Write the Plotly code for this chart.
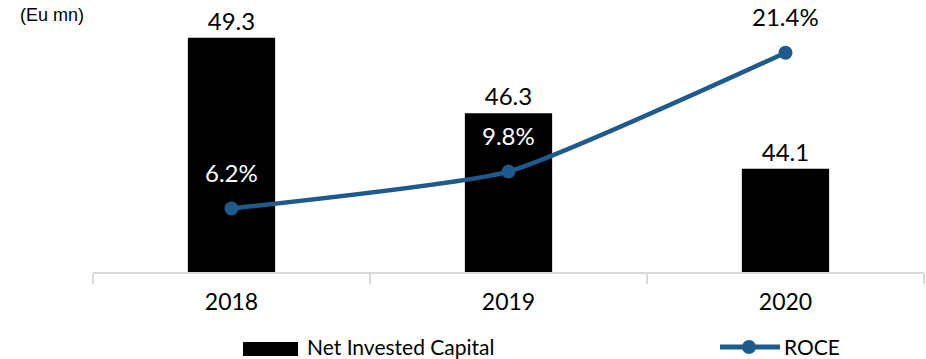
import plotly.graph_objects as go

# Data
years = ["2018", "2019", "2020"]
net_invested_capital = [49.3, 46.3, 44.1]   # Eu mn
roce = [6.2, 9.8, 21.4]                      # %
roce_label_colors = ["white", "white", "black"]

W, H = 926, 359
ML, MR, MT, MB = 93, 2, 20, 87
PW, PH = W - ML - MR, H - MT - MB

LINE_BLUE = "#1F5A8C"
FONT = "Lato"


def px_x(x):
    return (x - ML) / PW


def px_y(y):
    return (H - MB - y) / PH


fig = go.Figure()

fig.add_trace(go.Bar(
    x=years,
    y=net_invested_capital,
    marker=dict(color="black", line=dict(width=0)),
    text=[f"{v:.1f}" for v in net_invested_capital],
    textposition="outside",
    textfont=dict(family=FONT, size=24, color="black"),
    constraintext="none",
    cliponaxis=False,
    showlegend=False,
    name="Net Invested Capital",
))

fig.add_trace(go.Scatter(
    x=years,
    y=roce,
    yaxis="y2",
    mode="lines+markers",
    line=dict(color=LINE_BLUE, width=4.5, shape="spline", smoothing=0.45),
    marker=dict(color=LINE_BLUE, size=14),
    cliponaxis=False,
    showlegend=False,
    name="ROCE",
))

annotations = []
# category positions are addressed by index so "2020" is not read as a number
for i, (v, c) in enumerate(zip(roce, roce_label_colors)):
    annotations.append(dict(
        x=i, y=v, xref="x", yref="y2",
        text=f"{v:.1f}%", showarrow=False,
        yshift=36,
        font=dict(family=FONT, size=24, color=c),
    ))

# Unit caption
annotations.append(dict(
    x=px_x(18), y=px_y(15), xref="paper", yref="paper",
    xanchor="left", yanchor="middle",
    text="(Eu mn)", showarrow=False,
    font=dict(family="Liberation Sans", size=18, color="black"),
))

# Legend drawn below the axis
shapes = [
    dict(type="rect", xref="paper", yref="paper",
         x0=px_x(243), x1=px_x(298), y0=px_y(356), y1=px_y(342),
         fillcolor="black", line=dict(width=0)),
    dict(type="line", xref="paper", yref="paper",
         x0=px_x(720), x1=px_x(780), y0=px_y(347), y1=px_y(347),
         line=dict(color=LINE_BLUE, width=5)),
    dict(type="circle", xref="paper", yref="paper",
         x0=px_x(742), x1=px_x(756), y0=px_y(354), y1=px_y(340),
         fillcolor=LINE_BLUE, line=dict(width=0)),
]
annotations.append(dict(
    x=px_x(305), y=px_y(346), xref="paper", yref="paper",
    xanchor="left", yanchor="middle", text="Net Invested Capital",
    showarrow=False, font=dict(family=FONT, size=21, color="black"),
))
annotations.append(dict(
    x=px_x(782), y=px_y(346), xref="paper", yref="paper",
    xanchor="left", yanchor="middle", text="ROCE",
    showarrow=False, font=dict(family=FONT, size=21, color="black"),
))

fig.update_layout(
    width=W, height=H,
    margin=dict(l=ML, r=MR, t=MT, b=MB),
    paper_bgcolor="white", plot_bgcolor="white",
    bargap=0.685,
    showlegend=False,
    xaxis=dict(
        type="category",
        range=[-0.5, 2.5],
        showline=True, linecolor="#d9d9d9", linewidth=1.5,
        ticks="outside", tickson="boundaries", ticklen=10,
        tickcolor="#d9d9d9", tickwidth=1.5,
        showgrid=False, zeroline=False,
        tickangle=0,
        tickfont=dict(family=FONT, size=23, color="black"),
        ticklabelstandoff=9,
    ),
    yaxis=dict(range=[40, 50], visible=False, showgrid=False),
    yaxis2=dict(range=[0, 24.6], overlaying="y", visible=False, showgrid=False),
    annotations=annotations,
    shapes=shapes,
)

fig.write_html("out.html")
